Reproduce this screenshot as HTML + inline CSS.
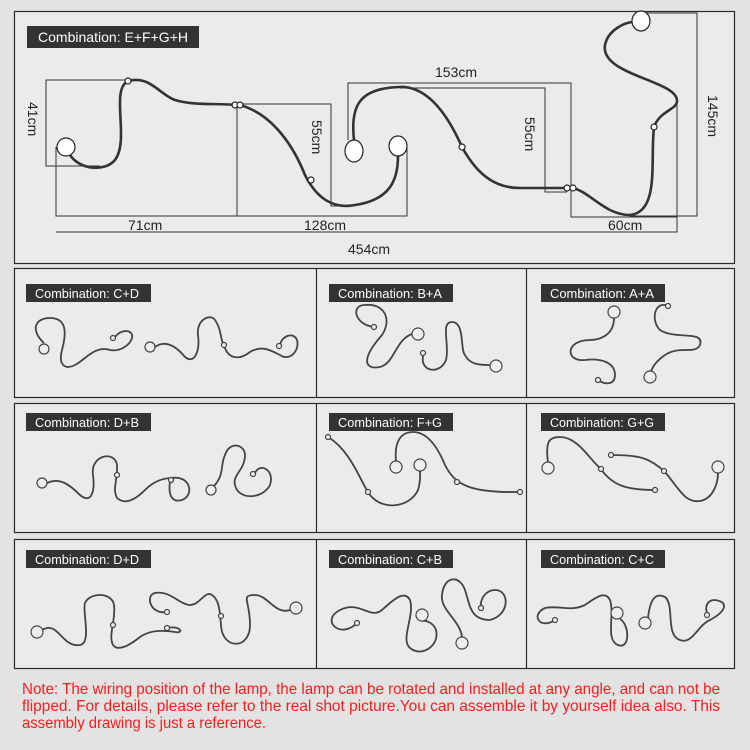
<!DOCTYPE html>
<html><head><meta charset="utf-8"><style>
html,body{margin:0;padding:0;background:#e4e4e4;}
svg{display:block;}
</style></head><body>
<svg width="750" height="750" viewBox="0 0 750 750" xmlns="http://www.w3.org/2000/svg" font-family="Liberation Sans, sans-serif">
<rect width="750" height="750" fill="#e3e3e3"/>
<!-- panels -->
<rect x="14.5" y="11.5" width="720" height="252" fill="#ebebeb" stroke="#2a2a2a" stroke-width="1.2"/>
<rect x="14.5" y="268.5" width="720" height="129" fill="#ebebeb" stroke="#2a2a2a" stroke-width="1.2"/>
<rect x="14.5" y="403.5" width="720" height="129" fill="#ebebeb" stroke="#2a2a2a" stroke-width="1.2"/>
<rect x="14.5" y="539.5" width="720" height="129" fill="#ebebeb" stroke="#2a2a2a" stroke-width="1.2"/>
<g stroke="#2a2a2a" stroke-width="1.2">
<line x1="316.5" y1="268" x2="316.5" y2="398"/><line x1="526.5" y1="268" x2="526.5" y2="398"/>
<line x1="316.5" y1="403" x2="316.5" y2="533"/><line x1="526.5" y1="403" x2="526.5" y2="533"/>
<line x1="316.5" y1="539" x2="316.5" y2="669"/><line x1="526.5" y1="539" x2="526.5" y2="669"/>
</g>
<!-- labels -->
<g fill="#333">
<rect x="27" y="26" width="172" height="22"/>
<rect x="26" y="284" width="125" height="18"/><rect x="329" y="284" width="124" height="18"/><rect x="541" y="284" width="124" height="18"/>
<rect x="26" y="413" width="125" height="18"/><rect x="329" y="413" width="124" height="18"/><rect x="541" y="413" width="124" height="18"/>
<rect x="26" y="550" width="125" height="18"/><rect x="329" y="550" width="124" height="18"/><rect x="541" y="550" width="124" height="18"/>
</g>
<g fill="#fff" font-size="13">
<text x="38" y="42" font-size="14" textLength="150" lengthAdjust="spacingAndGlyphs">Combination: E+F+G+H</text>
<text x="35" y="298" textLength="104" lengthAdjust="spacingAndGlyphs">Combination: C+D</text>
<text x="338" y="298" textLength="104" lengthAdjust="spacingAndGlyphs">Combination: B+A</text>
<text x="550" y="298" textLength="104" lengthAdjust="spacingAndGlyphs">Combination: A+A</text>
<text x="35" y="427" textLength="104" lengthAdjust="spacingAndGlyphs">Combination: D+B</text>
<text x="338" y="427" textLength="104" lengthAdjust="spacingAndGlyphs">Combination: F+G</text>
<text x="550" y="427" textLength="104" lengthAdjust="spacingAndGlyphs">Combination: G+G</text>
<text x="35" y="564" textLength="104" lengthAdjust="spacingAndGlyphs">Combination: D+D</text>
<text x="338" y="564" textLength="104" lengthAdjust="spacingAndGlyphs">Combination: C+B</text>
<text x="550" y="564" textLength="104" lengthAdjust="spacingAndGlyphs">Combination: C+C</text>
</g>
<!-- top dimension lines -->
<g stroke="#333" stroke-width="1" fill="none">
<polyline points="128,80 46,80 46,166 100,166"/>
<polyline points="56,147 56,216 407,216 407,147"/>
<line x1="237" y1="105" x2="237" y2="216"/>
<polyline points="240,104 331,104 331,206 345,206"/>
<polyline points="348,140 348,83 571,83 571,217 677,217"/>
<polyline points="400,88 545,88 545,192 567,192"/>
<polyline points="641,13 697,13 697,216 630,216"/>
<polyline points="677,100 677,232 56,232"/>
</g>
<g fill="#222" font-size="14">
<text x="128" y="230">71cm</text><text x="304" y="230">128cm</text><text x="608" y="230">60cm</text>
<text x="348" y="254">454cm</text><text x="435" y="77">153cm</text>
<text transform="translate(28,102) rotate(90)">41cm</text>
<text transform="translate(312,120) rotate(90)">55cm</text>
<text transform="translate(525,117) rotate(90)">55cm</text>
<text transform="translate(708,95) rotate(90)">145cm</text>
</g>
<!-- top curves -->
<g stroke="#333" stroke-width="2.6" fill="none">
<path d="M70,155 C80,170 105,172 115,160 C130,140 110,90 128,81 C150,75 160,95 175,100 C195,106 220,103 235,105"/>
<path d="M240,105 C275,115 295,150 305,175 C320,205 340,208 355,205 C390,200 398,180 398,156"/>
<path d="M354,140 C350,105 360,88 400,87 C430,86 450,120 462,147 C480,180 500,188 520,188 L567,188"/>
<path d="M573,188 C590,192 605,215 630,215 C660,212 650,160 654,127 C660,110 678,110 677,100 C675,80 600,75 605,45 C608,30 625,22 634,22"/>
</g>
<g stroke="#222" stroke-width="1.2" fill="#fff">
<circle cx="66" cy="147" r="9"/><ellipse cx="398" cy="146" rx="9" ry="10"/><ellipse cx="354" cy="151" rx="9" ry="11"/><ellipse cx="641" cy="21" rx="9" ry="10"/>
<circle cx="128" cy="81" r="3"/><circle cx="235" cy="105" r="3"/><circle cx="240" cy="105" r="3"/><circle cx="311" cy="180" r="3"/>
<circle cx="462" cy="147" r="3"/><circle cx="567" cy="188" r="3"/><circle cx="573" cy="188" r="3"/><circle cx="654" cy="127" r="3"/>
</g>
<!-- grid curves -->
<g stroke="#444" stroke-width="1.8" fill="none">
<path d="M44,343 C30,330 35,318 50,318 C68,318 66,335 62,350 C58,365 65,370 75,365 C85,360 95,345 110,350 C120,352 130,345 132,338 C134,330 122,328 115,337"/>
<path d="M155,347 C165,340 175,345 185,357 C195,365 200,350 198,335 C196,320 210,313 215,320 C222,330 220,340 224,345 C228,360 240,360 250,352 C262,345 270,350 280,355 C290,362 300,350 297,340 C294,332 282,335 280,345"/>
<path d="M374,327 C355,325 350,305 365,305 C385,303 392,320 382,335 C360,360 365,370 380,367 C395,363 395,340 412,334"/>
<path d="M423,356 C420,372 440,375 446,360 C450,345 440,322 452,322 C465,322 460,350 465,355 C470,365 480,365 490,365"/>
<path d="M614,318 C614,335 600,340 590,340 C565,340 565,362 585,360 C600,358 615,362 615,375 C615,385 605,385 598,380"/>
<path d="M668,306 C655,300 650,320 660,330 C675,340 705,330 700,345 C695,355 680,345 665,355 C655,362 652,368 651,372"/>
<path d="M47,483 C60,477 70,485 80,495 C92,505 95,490 93,475 C90,455 115,450 117,465 C118,480 112,488 117,498 C125,505 135,500 145,490 C155,480 165,478 172,478 C190,475 195,495 182,500 C172,503 168,495 170,482"/>
<path d="M213,487 C225,475 220,465 225,455 C230,440 245,445 245,455 C245,470 232,475 235,485 C238,500 262,500 270,485 C275,470 260,462 255,473"/>
<path d="M328,437 C350,450 360,480 368,492 C380,512 410,508 418,490 C421,480 420,475 420,471"/>
<path d="M396,461 C394,440 402,432 413,432 C428,432 438,448 445,465 C455,485 470,493 520,492"/>
<path d="M548,462 C545,440 550,437 560,437 C578,437 590,460 600,468 C612,485 625,490 655,490"/>
<path d="M611,455 C640,455 650,458 665,472 C680,490 685,503 700,501 C712,499 718,485 718,473"/>
<path d="M42,630 C58,620 62,648 80,645 C92,643 82,610 85,603 C90,592 112,592 114,605 C116,620 108,635 113,645 C118,652 130,645 140,637 C150,630 162,630 175,632 C185,634 180,625 168,628"/>
<path d="M167,612 C150,615 145,595 155,593 C170,590 180,605 190,605 C200,605 205,590 212,595 C220,600 220,615 221,625 C222,650 250,650 250,625 C250,600 240,595 255,595 C268,595 275,615 290,610"/>
<path d="M357,623 C340,640 320,620 340,610 C360,600 370,620 382,610 C395,598 405,590 410,600 C415,615 400,640 410,648 C422,658 440,645 436,630 C433,622 425,620 422,621"/>
<path d="M462,637 C460,620 440,610 442,595 C444,575 460,575 465,590 C470,605 470,620 490,620 C510,615 510,590 495,590 C485,590 480,600 481,607"/>
<path d="M555,620 C540,630 530,615 545,608 C560,605 570,612 585,605 C595,598 605,590 610,600 C615,615 605,640 618,645 C630,650 630,625 620,619"/>
<path d="M648,618 C650,600 655,592 665,597 C675,605 665,635 680,640 C692,645 698,625 710,620 C725,612 730,602 715,600 C705,600 705,610 708,615"/>
</g>
<g stroke="#444" stroke-width="1.2" fill="#eee">
<circle cx="44" cy="349" r="5"/><circle cx="113" cy="338" r="2.5"/><circle cx="150" cy="347" r="5"/><circle cx="224" cy="345" r="2.5"/><circle cx="279" cy="346" r="2.5"/>
<circle cx="374" cy="327" r="2.5"/><circle cx="418" cy="334" r="6"/><circle cx="423" cy="353" r="2.5"/><circle cx="496" cy="366" r="6"/>
<circle cx="614" cy="312" r="6"/><circle cx="598" cy="380" r="2.5"/><circle cx="668" cy="306" r="2.5"/><circle cx="650" cy="377" r="6"/>
<circle cx="42" cy="483" r="5"/><circle cx="117" cy="475" r="2.5"/><circle cx="171" cy="480" r="2.5"/><circle cx="211" cy="490" r="5"/><circle cx="253" cy="474" r="2.5"/>
<circle cx="328" cy="437" r="2.5"/><circle cx="368" cy="492" r="2.5"/><circle cx="420" cy="465" r="6"/><circle cx="396" cy="467" r="6"/><circle cx="457" cy="482" r="2.5"/><circle cx="520" cy="492" r="2.5"/>
<circle cx="548" cy="468" r="6"/><circle cx="601" cy="469" r="2.5"/><circle cx="655" cy="490" r="2.5"/><circle cx="611" cy="455" r="2.5"/><circle cx="664" cy="471" r="2.5"/><circle cx="718" cy="467" r="6"/>
<circle cx="37" cy="632" r="6"/><circle cx="113" cy="625" r="2.5"/><circle cx="167" cy="628" r="2.5"/><circle cx="167" cy="612" r="2.5"/><circle cx="221" cy="616" r="2.5"/><circle cx="296" cy="608" r="6"/>
<circle cx="357" cy="623" r="2.5"/><circle cx="422" cy="615" r="6"/><circle cx="462" cy="643" r="6"/><circle cx="481" cy="608" r="2.5"/>
<circle cx="555" cy="620" r="2.5"/><circle cx="617" cy="613" r="6"/><circle cx="645" cy="623" r="6"/><circle cx="707" cy="615" r="2.5"/>
</g>
<!-- note -->
<g fill="#ff1a1a" font-size="16">
<text x="22" y="694" textLength="698" lengthAdjust="spacingAndGlyphs">Note: The wiring position of the lamp, the lamp can be rotated and installed at any angle, and can not be</text>
<text x="22" y="711" textLength="698" lengthAdjust="spacingAndGlyphs">flipped. For details, please refer to the real shot picture.You can assemble it by yourself idea also. This</text>
<text x="22" y="728" textLength="244" lengthAdjust="spacingAndGlyphs">assembly drawing is just a reference.</text>
</g>
</svg>
</body></html>
